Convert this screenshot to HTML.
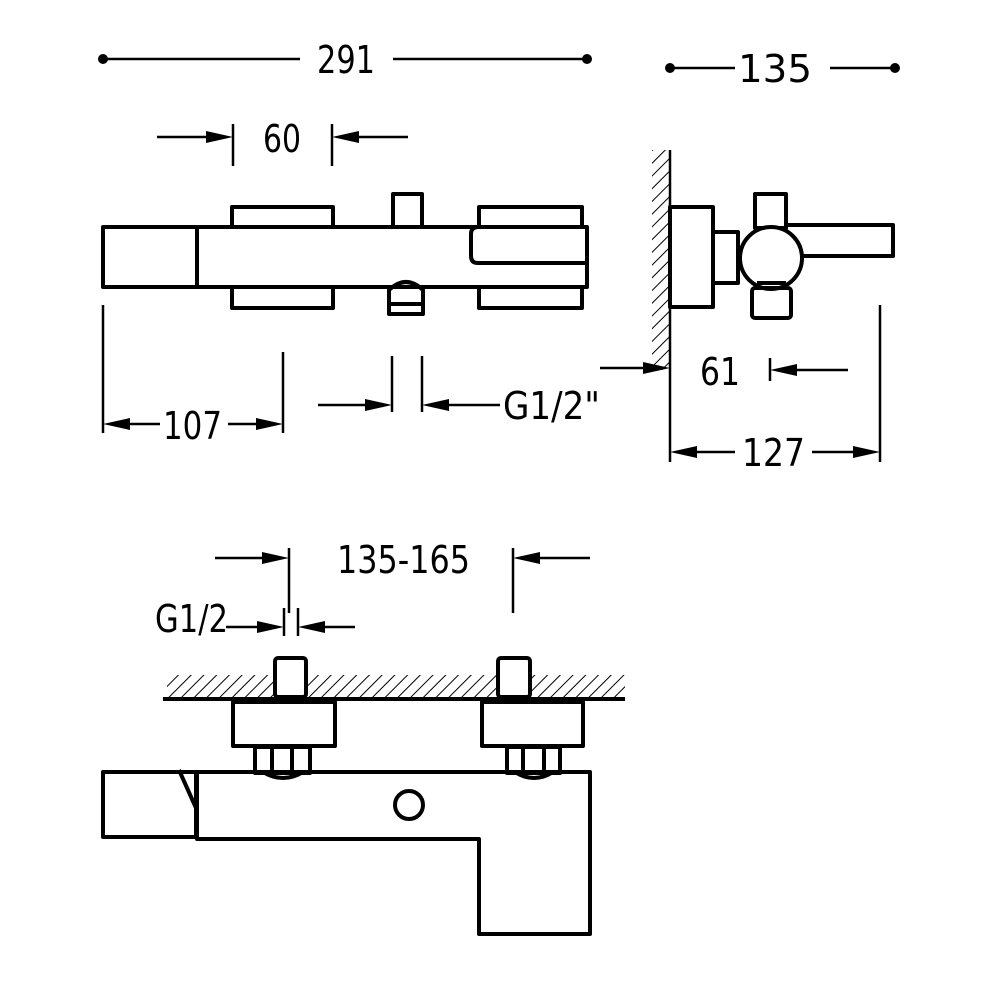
<!DOCTYPE html>
<html><head><meta charset="utf-8"><style>html,body{margin:0;padding:0;background:#fff}svg{display:block}</style></head>
<body>
<svg width="1000" height="1000" viewBox="0 0 1000 1000" xmlns="http://www.w3.org/2000/svg">
<defs>
<pattern id="h" width="9" height="9" patternUnits="userSpaceOnUse" patternTransform="rotate(45)">
<line x1="0" y1="0" x2="0" y2="9" stroke="#000" stroke-width="2"/>
</pattern>
</defs>
<g fill="none" stroke="#000" stroke-linejoin="round">
<!-- dims lines -->
<g stroke-width="2.5">
<line x1="103" y1="59" x2="300" y2="59"/><line x1="393" y1="59" x2="587" y2="59"/>
<line x1="670" y1="68" x2="735" y2="68"/><line x1="830" y1="68" x2="895" y2="68"/>
<line x1="157" y1="137" x2="210" y2="137"/><line x1="233" y1="124" x2="233" y2="166"/>
<line x1="332" y1="124" x2="332" y2="166"/><line x1="355" y1="137" x2="408" y2="137"/>
<line x1="103" y1="305" x2="103" y2="433"/><line x1="283" y1="352" x2="283" y2="433"/>
<line x1="126" y1="424" x2="160" y2="424"/><line x1="228" y1="424" x2="260" y2="424"/>
<line x1="392" y1="356" x2="392" y2="412"/><line x1="422" y1="356" x2="422" y2="412"/>
<line x1="318" y1="405" x2="370" y2="405"/><line x1="445" y1="405" x2="500" y2="405"/>
<line x1="600" y1="368" x2="645" y2="368"/>
<line x1="770" y1="358" x2="770" y2="381"/><line x1="793" y1="370" x2="848" y2="370"/>
<line x1="670" y1="150" x2="670" y2="462"/><line x1="880" y1="305" x2="880" y2="462"/>
<line x1="693" y1="452" x2="735" y2="452"/><line x1="812" y1="452" x2="857" y2="452"/>
<line x1="289" y1="548" x2="289" y2="613"/><line x1="513" y1="548" x2="513" y2="613"/>
<line x1="215" y1="558" x2="266" y2="558"/><line x1="536" y1="558" x2="590" y2="558"/>
<line x1="284" y1="608" x2="284" y2="636"/><line x1="298" y1="608" x2="298" y2="636"/>
<line x1="226" y1="627" x2="261" y2="627"/><line x1="321" y1="627" x2="355" y2="627"/>
</g>
<!-- top front view -->
<g stroke-width="4">
<rect x="232" y="207" width="101" height="20"/><rect x="232" y="287" width="101" height="21"/>
<rect x="479" y="207" width="103" height="20"/><rect x="479" y="287" width="103" height="21"/>
<rect x="103" y="227" width="94" height="60"/>
<rect x="197" y="227" width="390" height="60"/>
<path d="M587 227 H478 Q471 227 471 234 V256 Q471 263 478 263 H587"/>
<rect x="393" y="194" width="29" height="33"/>
<path d="M389 304 V290 Q406 274 423 290 V304 Z M389 304 V314 H423 V304"/>
</g>
<!-- side view -->
<rect x="652" y="150" width="18" height="220" fill="url(#h)" stroke="none"/>
<g stroke-width="4">
<rect x="670" y="207" width="43" height="100"/>
<rect x="713" y="232" width="25" height="51"/>
<rect x="755" y="194" width="31" height="34"/>
<path d="M786 225 H893 V256 H803"/>
<circle cx="771" cy="258" r="31" fill="#fff"/>
<rect x="752" y="288" width="39" height="30" rx="3"/>
<line x1="757" y1="283" x2="786" y2="283"/>
</g>
<!-- bottom view -->
<rect x="167" y="675" width="458" height="23" fill="url(#h)" stroke="none"/>
<g stroke-width="4">
<line x1="163" y1="699" x2="625" y2="699"/>
<rect x="275" y="658" width="31" height="39" fill="#fff" rx="3"/>
<rect x="498" y="658" width="32" height="39" fill="#fff" rx="3"/>
<rect x="233" y="702" width="102" height="44"/>
<rect x="482" y="702" width="101" height="44"/>
<rect x="255" y="747" width="55" height="26"/><line x1="272" y1="747" x2="272" y2="773"/><line x1="292" y1="747" x2="292" y2="773"/>
<rect x="507" y="747" width="53" height="26"/><line x1="523" y1="747" x2="523" y2="773"/><line x1="544" y1="747" x2="544" y2="773"/>
<path d="M263 772 Q283 784 303 772"/><path d="M515 772 Q534 784 553 772"/>
<rect x="103" y="772" width="93" height="65"/>
<path d="M179 770 L196 808"/>
<path d="M197 772 H590 V934 H479 V839 H197 Z"/>
<circle cx="409" cy="805" r="14"/>
</g>
</g>
<!-- dots and arrowheads -->
<g fill="#000">
<circle cx="103" cy="59" r="5"/><circle cx="587" cy="59" r="5"/>
<circle cx="670" cy="68" r="5"/><circle cx="895" cy="68" r="5"/>
<path d="M233 137 l-27 -6 v12z"/><path d="M332 137 l27 -6 v12z"/>
<path d="M103 424 l27 -6 v12z"/><path d="M283 424 l-27 -6 v12z"/>
<path d="M392 405 l-27 -6 v12z"/><path d="M422 405 l27 -6 v12z"/>
<path d="M670 368 l-27 -6 v12z"/><path d="M770 370 l27 -6 v12z"/>
<path d="M670 452 l27 -6 v12z"/><path d="M880 452 l-27 -6 v12z"/>
<path d="M289 558 l-27 -6 v12z"/><path d="M513 558 l27 -6 v12z"/>
<path d="M284 627 l-27 -6 v12z"/><path d="M298 627 l27 -6 v12z"/>
</g>
<g font-family="'DejaVu Sans','Liberation Sans',sans-serif" font-size="38" fill="#000" lengthAdjust="spacingAndGlyphs">
<text x="317" y="73" textLength="58" lengthAdjust="spacingAndGlyphs">291</text>
<text x="738" y="82" textLength="74" lengthAdjust="spacingAndGlyphs">135</text>
<text x="263" y="152" textLength="38" lengthAdjust="spacingAndGlyphs">60</text>
<text x="163" y="439" textLength="59" lengthAdjust="spacingAndGlyphs">107</text>
<text x="503" y="419" textLength="97" lengthAdjust="spacingAndGlyphs">G1/2"</text>
<text x="700" y="385" textLength="40" lengthAdjust="spacingAndGlyphs">61</text>
<text x="742" y="466" textLength="63" lengthAdjust="spacingAndGlyphs">127</text>
<text x="337" y="573" textLength="133" lengthAdjust="spacingAndGlyphs">135-165</text>
<text x="155" y="632" textLength="73" lengthAdjust="spacingAndGlyphs">G1/2</text>
</g>
</svg>
</body></html>
